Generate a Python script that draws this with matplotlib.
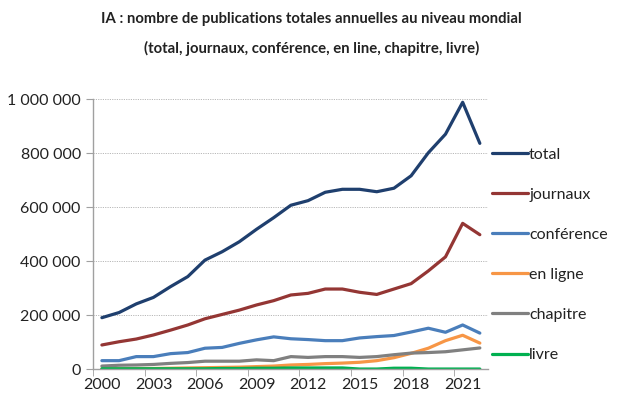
import matplotlib
matplotlib.use("Agg")
import matplotlib.pyplot as plt
from matplotlib.ticker import FuncFormatter, FixedLocator

years = list(range(2000, 2023))
total = [191000, 210000, 242000, 266000, 306000, 343000, 404000, 435000, 472000, 518000,
         561000, 607000, 624000, 655000, 666000, 666000, 657000, 670000, 716000, 801000,
         870000, 988000, 836000]
journaux = [90000, 102000, 112000, 127000, 145000, 164000, 187000, 203000, 219000, 238000,
            254000, 275000, 281000, 297000, 297000, 285000, 277000, 297000, 317000, 364000,
            416000, 540000, 498000]
conference = [32000, 32000, 47000, 47000, 58000, 62000, 78000, 81000, 96000, 109000,
              120000, 113000, 110000, 106000, 106000, 116000, 121000, 125000, 138000, 152000,
              137000, 164000, 134000]
en_ligne = [2000, 2000, 3000, 3000, 4000, 5000, 6000, 7000, 8000, 10000,
            12000, 16000, 18000, 21000, 23000, 26000, 32000, 43000, 59000, 78000,
            106000, 126000, 97000]
chapitre = [12000, 15000, 16000, 18000, 22000, 25000, 30000, 30000, 30000, 35000,
            32000, 47000, 44000, 47000, 47000, 44000, 47000, 54000, 60000, 62000,
            65000, 72000, 79000]
livre = [2000, 2000, 2000, 2000, 2000, 2000, 2000, 3000, 3000, 4000,
         4000, 5000, 5000, 5000, 5000, 1000, 1000, 4000, 4000, 1000,
         1000, 1000, 1000]

series_names = ["total", "journaux", "conférence", "en ligne", "chapitre", "livre"]
series_values = [total, journaux, conference, en_ligne, chapitre, livre]
colors = ["#1F3F6E", "#943634", "#4A7EBB", "#F79646", "#808080", "#00B050"]

title = "IA : nombre de publications totales annuelles au niveau mondial\n(total, journaux, conférence, en line, chapitre, livre)"

FONT = ["Lato", "DejaVu Sans"]
plt.rcParams["font.family"] = FONT

fig = plt.figure(figsize=(6.27, 4.15), dpi=100)
ax = fig.add_axes([0.1488, 0.1101, 0.6302, 0.6513])

for name, vals, c in zip(series_names, series_values, colors):
    ax.plot(years, vals, color=c, lw=2.3, label=name, solid_capstyle="round")

ax.set_xlim(1999.5, 2022.5)
ax.set_ylim(0, 1000000)
ax.set_yticks([0, 200000, 400000, 600000, 800000, 1000000])
ax.yaxis.set_major_formatter(FuncFormatter(lambda v, p: f"{int(v):,}".replace(",", " ")))
label_years = years[::3]
ax.set_xticks(label_years)
ax.set_xticklabels([str(y) for y in label_years])
ax.xaxis.set_minor_locator(FixedLocator([y + 2.5 for y in years[::3]][:-1] + [1999.5]))
ax.tick_params(axis="x", which="major", length=0, pad=6, labelsize=11.5, colors="#222222")
ax.tick_params(axis="x", which="minor", length=5, color="#A0A0A0", direction="out")
ax.tick_params(axis="y", length=5, color="#A0A0A0", labelsize=11.5, labelcolor="#222222", pad=4)

ax.grid(axis="y", linestyle=(0, (1.2, 1.2)), color="#B8B8B8", lw=0.7)
ax.set_axisbelow(True)
for s in ["top", "right"]:
    ax.spines[s].set_visible(False)
for s in ["left", "bottom"]:
    ax.spines[s].set_color("#A0A0A0")
    ax.spines[s].set_linewidth(1.0)

leg = ax.legend(loc="upper left", bbox_to_anchor=(1.01, 0.82), frameon=False,
                fontsize=11.5, handlelength=2.2, handletextpad=0.1,
                labelspacing=1.62, borderaxespad=0.0, borderpad=0.0)
for t in leg.get_texts():
    t.set_color("#222222")

fig.text(0.497, 0.972, title, ha="center", va="top", fontsize=10.7,
         fontweight="bold", color="#222222", linespacing=2.25)

fig.savefig("out.png", dpi=100)
